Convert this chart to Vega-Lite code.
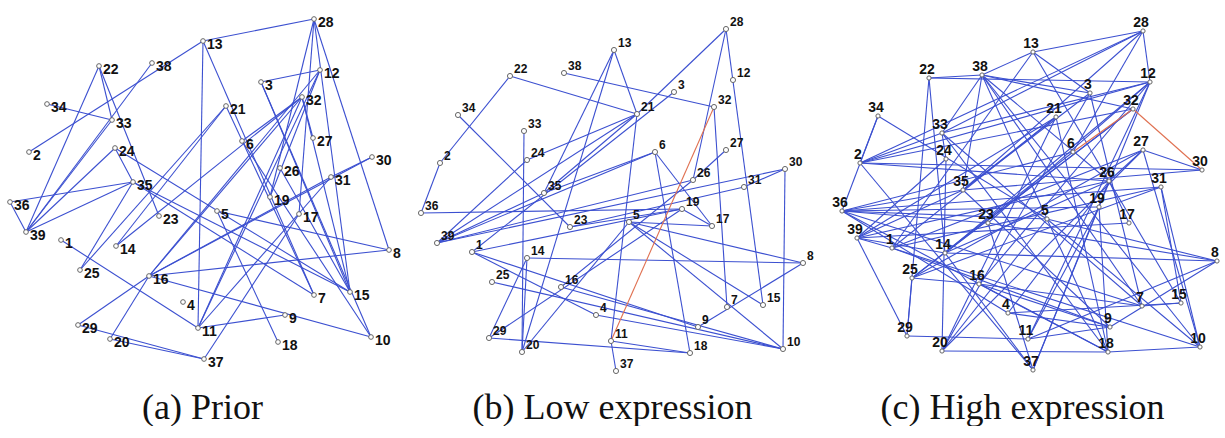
{
"$schema": "https://vega.github.io/schema/vega-lite/v6.json",
"padding": 0,
"spacing": 5,
"bounds": "flush",
"config": {"view": {"stroke": null}},
"datasets": {
"nodes": [
{"k":"a1","p":"a","n":"1","x":61,"y":240},{"k":"a2","p":"a","n":"2","x":29,"y":152},{"k":"a3","p":"a","n":"3","x":261,"y":82},{"k":"a4","p":"a","n":"4","x":183,"y":302},{"k":"a5","p":"a","n":"5","x":217,"y":211},{"k":"a6","p":"a","n":"6","x":242,"y":141},{"k":"a7","p":"a","n":"7","x":314,"y":295},{"k":"a8","p":"a","n":"8","x":389,"y":250},{"k":"a9","p":"a","n":"9","x":285,"y":315},{"k":"a10","p":"a","n":"10","x":371,"y":337},{"k":"a11","p":"a","n":"11","x":198,"y":328},{"k":"a12","p":"a","n":"12","x":320,"y":70},{"k":"a13","p":"a","n":"13","x":203,"y":41},{"k":"a14","p":"a","n":"14","x":116,"y":246},{"k":"a15","p":"a","n":"15","x":350,"y":292},{"k":"a16","p":"a","n":"16","x":149,"y":276},{"k":"a17","p":"a","n":"17","x":299,"y":214},{"k":"a18","p":"a","n":"18","x":278,"y":342},{"k":"a19","p":"a","n":"19","x":270,"y":197},{"k":"a20","p":"a","n":"20","x":110,"y":339},{"k":"a21","p":"a","n":"21","x":226,"y":106},{"k":"a22","p":"a","n":"22","x":99,"y":66},{"k":"a23","p":"a","n":"23","x":159,"y":216},{"k":"a24","p":"a","n":"24","x":115,"y":148},{"k":"a25","p":"a","n":"25","x":80,"y":270},{"k":"a26","p":"a","n":"26","x":280,"y":168},{"k":"a27","p":"a","n":"27","x":313,"y":138},{"k":"a28","p":"a","n":"28","x":314,"y":19},{"k":"a29","p":"a","n":"29","x":78,"y":325},{"k":"a30","p":"a","n":"30","x":372,"y":157},{"k":"a31","p":"a","n":"31","x":331,"y":177},{"k":"a32","p":"a","n":"32","x":302,"y":97},{"k":"a33","p":"a","n":"33","x":112,"y":120},{"k":"a34","p":"a","n":"34","x":47,"y":104},{"k":"a35","p":"a","n":"35","x":133,"y":182},{"k":"a36","p":"a","n":"36","x":10,"y":202},{"k":"a37","p":"a","n":"37","x":204,"y":359},{"k":"a38","p":"a","n":"38","x":152,"y":63},{"k":"a39","p":"a","n":"39","x":26,"y":232},
{"k":"b1","p":"b","n":"1","x":472,"y":252},{"k":"b2","p":"b","n":"2","x":440,"y":163},{"k":"b3","p":"b","n":"3","x":674,"y":92},{"k":"b4","p":"b","n":"4","x":596,"y":315},{"k":"b5","p":"b","n":"5","x":629,"y":222},{"k":"b6","p":"b","n":"6","x":655,"y":152},{"k":"b7","p":"b","n":"7","x":727,"y":307},{"k":"b8","p":"b","n":"8","x":803,"y":263},{"k":"b9","p":"b","n":"9","x":698,"y":327},{"k":"b10","p":"b","n":"10","x":783,"y":349},{"k":"b11","p":"b","n":"11","x":611,"y":341},{"k":"b12","p":"b","n":"12","x":733,"y":80},{"k":"b13","p":"b","n":"13","x":614,"y":50},{"k":"b14","p":"b","n":"14","x":527,"y":258},{"k":"b15","p":"b","n":"15","x":763,"y":305},{"k":"b16","p":"b","n":"16","x":561,"y":287},{"k":"b17","p":"b","n":"17","x":712,"y":226},{"k":"b18","p":"b","n":"18","x":690,"y":353},{"k":"b19","p":"b","n":"19","x":682,"y":209},{"k":"b20","p":"b","n":"20","x":522,"y":352},{"k":"b21","p":"b","n":"21","x":637,"y":114},{"k":"b22","p":"b","n":"22","x":510,"y":76},{"k":"b23","p":"b","n":"23","x":570,"y":227},{"k":"b24","p":"b","n":"24","x":527,"y":160},{"k":"b25","p":"b","n":"25","x":492,"y":282},{"k":"b26","p":"b","n":"26","x":693,"y":180},{"k":"b27","p":"b","n":"27","x":726,"y":150},{"k":"b28","p":"b","n":"28","x":726,"y":29},{"k":"b29","p":"b","n":"29","x":489,"y":338},{"k":"b30","p":"b","n":"30","x":785,"y":169},{"k":"b31","p":"b","n":"31","x":744,"y":187},{"k":"b32","p":"b","n":"32","x":714,"y":107},{"k":"b33","p":"b","n":"33","x":524,"y":131},{"k":"b34","p":"b","n":"34","x":458,"y":115},{"k":"b35","p":"b","n":"35","x":544,"y":193},{"k":"b36","p":"b","n":"36","x":421,"y":213},{"k":"b37","p":"b","n":"37","x":616,"y":371},{"k":"b38","p":"b","n":"38","x":564,"y":73},{"k":"b39","p":"b","n":"39","x":437,"y":243},
{"k":"c1","p":"c","n":"1","x":892,"y":248},{"k":"c2","p":"c","n":"2","x":860,"y":163},{"k":"c3","p":"c","n":"3","x":1090,"y":93},{"k":"c4","p":"c","n":"4","x":1008,"y":313},{"k":"c5","p":"c","n":"5","x":1047,"y":219},{"k":"c6","p":"c","n":"6","x":1073,"y":152},{"k":"c7","p":"c","n":"7","x":1142,"y":306},{"k":"c8","p":"c","n":"8","x":1217,"y":261},{"k":"c9","p":"c","n":"9","x":1110,"y":327},{"k":"c10","p":"c","n":"10","x":1200,"y":347},{"k":"c11","p":"c","n":"11","x":1028,"y":339},{"k":"c12","p":"c","n":"12","x":1150,"y":82},{"k":"c13","p":"c","n":"13","x":1033,"y":52},{"k":"c14","p":"c","n":"14","x":945,"y":253},{"k":"c15","p":"c","n":"15","x":1181,"y":303},{"k":"c16","p":"c","n":"16","x":979,"y":284},{"k":"c17","p":"c","n":"17","x":1129,"y":223},{"k":"c18","p":"c","n":"18","x":1108,"y":352},{"k":"c19","p":"c","n":"19","x":1099,"y":207},{"k":"c20","p":"c","n":"20","x":942,"y":351},{"k":"c21","p":"c","n":"21","x":1056,"y":117},{"k":"c22","p":"c","n":"22","x":929,"y":78},{"k":"c23","p":"c","n":"23","x":988,"y":223},{"k":"c24","p":"c","n":"24","x":946,"y":159},{"k":"c25","p":"c","n":"25","x":912,"y":278},{"k":"c26","p":"c","n":"26","x":1109,"y":181},{"k":"c27","p":"c","n":"27","x":1143,"y":150},{"k":"c28","p":"c","n":"28","x":1143,"y":31},{"k":"c29","p":"c","n":"29","x":907,"y":336},{"k":"c30","p":"c","n":"30","x":1202,"y":170},{"k":"c31","p":"c","n":"31","x":1161,"y":187},{"k":"c32","p":"c","n":"32","x":1133,"y":109},{"k":"c33","p":"c","n":"33","x":942,"y":133},{"k":"c34","p":"c","n":"34","x":878,"y":116},{"k":"c35","p":"c","n":"35","x":963,"y":190},{"k":"c36","p":"c","n":"36","x":842,"y":211},{"k":"c37","p":"c","n":"37","x":1033,"y":370},{"k":"c38","p":"c","n":"38","x":982,"y":75},{"k":"c39","p":"c","n":"39","x":857,"y":238}
],
"edges": [
{"p":"a","s":"a13","t":"a28"},{"p":"a","s":"a13","t":"a2"},{"p":"a","s":"a13","t":"a11"},{"p":"a","s":"a13","t":"a7"},{"p":"a","s":"a22","t":"a33"},{"p":"a","s":"a22","t":"a39"},{"p":"a","s":"a22","t":"a23"},{"p":"a","s":"a38","t":"a39"},{"p":"a","s":"a34","t":"a33"},{"p":"a","s":"a33","t":"a39"},{"p":"a","s":"a24","t":"a39"},{"p":"a","s":"a24","t":"a35"},{"p":"a","s":"a24","t":"a15"},{"p":"a","s":"a25","t":"a35"},{"p":"a","s":"a25","t":"a21"},{"p":"a","s":"a35","t":"a36"},{"p":"a","s":"a35","t":"a39"},{"p":"a","s":"a36","t":"a39"},{"p":"a","s":"a35","t":"a15"},{"p":"a","s":"a35","t":"a7"},{"p":"a","s":"a1","t":"a11"},{"p":"a","s":"a14","t":"a21"},{"p":"a","s":"a14","t":"a32"},{"p":"a","s":"a16","t":"a32"},{"p":"a","s":"a16","t":"a12"},{"p":"a","s":"a16","t":"a8"},{"p":"a","s":"a16","t":"a10"},{"p":"a","s":"a16","t":"a30"},{"p":"a","s":"a16","t":"a31"},{"p":"a","s":"a29","t":"a16"},{"p":"a","s":"a29","t":"a37"},{"p":"a","s":"a20","t":"a37"},{"p":"a","s":"a20","t":"a16"},{"p":"a","s":"a11","t":"a32"},{"p":"a","s":"a11","t":"a12"},{"p":"a","s":"a11","t":"a9"},{"p":"a","s":"a11","t":"a31"},{"p":"a","s":"a37","t":"a17"},{"p":"a","s":"a5","t":"a18"},{"p":"a","s":"a5","t":"a8"},{"p":"a","s":"a3","t":"a12"},{"p":"a","s":"a3","t":"a10"},{"p":"a","s":"a3","t":"a15"},{"p":"a","s":"a28","t":"a8"},{"p":"a","s":"a28","t":"a17"},{"p":"a","s":"a28","t":"a15"},{"p":"a","s":"a28","t":"a19"},{"p":"a","s":"a32","t":"a27"},{"p":"a","s":"a21","t":"a7"},{"p":"a","s":"a6","t":"a10"},{"p":"a","s":"a6","t":"a32"},{"p":"a","s":"a26","t":"a15"},{"p":"a","s":"a31","t":"a30"},{"p":"a","s":"a32","t":"a15"},{"p":"a","s":"a12","t":"a19"},
{"p":"b","s":"b13","t":"b21"},{"p":"b","s":"b13","t":"b35"},{"p":"b","s":"b13","t":"b20"},{"p":"b","s":"b22","t":"b2"},{"p":"b","s":"b2","t":"b36"},{"p":"b","s":"b22","t":"b21"},{"p":"b","s":"b38","t":"b32"},{"p":"b","s":"b34","t":"b23"},{"p":"b","s":"b33","t":"b20"},{"p":"b","s":"b24","t":"b21"},{"p":"b","s":"b24","t":"b39"},{"p":"b","s":"b3","t":"b1"},{"p":"b","s":"b35","t":"b39"},{"p":"b","s":"b35","t":"b21"},{"p":"b","s":"b35","t":"b6"},{"p":"b","s":"b36","t":"b19"},{"p":"b","s":"b39","t":"b30"},{"p":"b","s":"b39","t":"b26"},{"p":"b","s":"b39","t":"b6"},{"p":"b","s":"b39","t":"b21"},{"p":"b","s":"b1","t":"b19"},{"p":"b","s":"b1","t":"b4"},{"p":"b","s":"b1","t":"b9"},{"p":"b","s":"b25","t":"b10"},{"p":"b","s":"b16","t":"b10"},{"p":"b","s":"b4","t":"b10"},{"p":"b","s":"b14","t":"b8"},{"p":"b","s":"b14","t":"b29"},{"p":"b","s":"b14","t":"b20"},{"p":"b","s":"b29","t":"b18"},{"p":"b","s":"b29","t":"b19"},{"p":"b","s":"b16","t":"b26"},{"p":"b","s":"b21","t":"b11"},{"p":"b","s":"b11","t":"b37"},{"p":"b","s":"b11","t":"b18"},{"p":"b","s":"b9","t":"b8"},{"p":"b","s":"b5","t":"b10"},{"p":"b","s":"b5","t":"b15"},{"p":"b","s":"b5","t":"b8"},{"p":"b","s":"b5","t":"b17"},{"p":"b","s":"b6","t":"b18"},{"p":"b","s":"b6","t":"b17"},{"p":"b","s":"b21","t":"b28"},{"p":"b","s":"b28","t":"b26"},{"p":"b","s":"b28","t":"b15"},{"p":"b","s":"b32","t":"b7"},{"p":"b","s":"b27","t":"b26"},{"p":"b","s":"b30","t":"b10"},{"p":"b","s":"b30","t":"b31"},{"p":"b","s":"b31","t":"b23"},{"p":"b","s":"b19","t":"b17"},{"p":"b","s":"b19","t":"b23"},{"p":"b","s":"b20","t":"b5"},{"p":"b","s":"b11","t":"b32","red":true},
{"p":"c","s":"c22","t":"c38"},{"p":"c","s":"c22","t":"c12"},{"p":"c","s":"c22","t":"c29"},{"p":"c","s":"c22","t":"c14"},{"p":"c","s":"c38","t":"c13"},{"p":"c","s":"c38","t":"c33"},{"p":"c","s":"c38","t":"c3"},{"p":"c","s":"c38","t":"c32"},{"p":"c","s":"c38","t":"c26"},{"p":"c","s":"c38","t":"c5"},{"p":"c","s":"c38","t":"c10"},{"p":"c","s":"c38","t":"c7"},{"p":"c","s":"c38","t":"c35"},{"p":"c","s":"c34","t":"c2"},{"p":"c","s":"c34","t":"c5"},{"p":"c","s":"c34","t":"c36"},{"p":"c","s":"c33","t":"c2"},{"p":"c","s":"c33","t":"c12"},{"p":"c","s":"c33","t":"c28"},{"p":"c","s":"c33","t":"c7"},{"p":"c","s":"c33","t":"c24"},{"p":"c","s":"c33","t":"c18"},{"p":"c","s":"c2","t":"c12"},{"p":"c","s":"c2","t":"c32"},{"p":"c","s":"c2","t":"c30"},{"p":"c","s":"c2","t":"c26"},{"p":"c","s":"c2","t":"c37"},{"p":"c","s":"c24","t":"c20"},{"p":"c","s":"c24","t":"c39"},{"p":"c","s":"c35","t":"c36"},{"p":"c","s":"c35","t":"c39"},{"p":"c","s":"c35","t":"c21"},{"p":"c","s":"c35","t":"c3"},{"p":"c","s":"c35","t":"c9"},{"p":"c","s":"c13","t":"c28"},{"p":"c","s":"c13","t":"c3"},{"p":"c","s":"c13","t":"c15"},{"p":"c","s":"c13","t":"c1"},{"p":"c","s":"c28","t":"c12"},{"p":"c","s":"c28","t":"c6"},{"p":"c","s":"c28","t":"c35"},{"p":"c","s":"c28","t":"c2"},{"p":"c","s":"c12","t":"c16"},{"p":"c","s":"c12","t":"c11"},{"p":"c","s":"c12","t":"c14"},{"p":"c","s":"c3","t":"c20"},{"p":"c","s":"c3","t":"c7"},{"p":"c","s":"c21","t":"c20"},{"p":"c","s":"c21","t":"c18"},{"p":"c","s":"c21","t":"c39"},{"p":"c","s":"c6","t":"c36"},{"p":"c","s":"c6","t":"c25"},{"p":"c","s":"c32","t":"c25"},{"p":"c","s":"c27","t":"c30"},{"p":"c","s":"c27","t":"c26"},{"p":"c","s":"c27","t":"c10"},{"p":"c","s":"c27","t":"c1"},{"p":"c","s":"c26","t":"c4"},{"p":"c","s":"c26","t":"c37"},{"p":"c","s":"c26","t":"c39"},{"p":"c","s":"c31","t":"c36"},{"p":"c","s":"c31","t":"c10"},{"p":"c","s":"c30","t":"c35"},{"p":"c","s":"c36","t":"c23"},{"p":"c","s":"c36","t":"c19"},{"p":"c","s":"c36","t":"c7"},{"p":"c","s":"c36","t":"c4"},{"p":"c","s":"c36","t":"c18"},{"p":"c","s":"c39","t":"c29"},{"p":"c","s":"c39","t":"c1"},{"p":"c","s":"c39","t":"c14"},{"p":"c","s":"c39","t":"c17"},{"p":"c","s":"c1","t":"c10"},{"p":"c","s":"c1","t":"c21"},{"p":"c","s":"c1","t":"c9"},{"p":"c","s":"c1","t":"c31"},{"p":"c","s":"c14","t":"c37"},{"p":"c","s":"c14","t":"c8"},{"p":"c","s":"c14","t":"c32"},{"p":"c","s":"c14","t":"c26"},{"p":"c","s":"c25","t":"c29"},{"p":"c","s":"c25","t":"c16"},{"p":"c","s":"c25","t":"c27"},{"p":"c","s":"c25","t":"c31"},{"p":"c","s":"c29","t":"c11"},{"p":"c","s":"c20","t":"c18"},{"p":"c","s":"c20","t":"c5"},{"p":"c","s":"c20","t":"c27"},{"p":"c","s":"c16","t":"c9"},{"p":"c","s":"c16","t":"c18"},{"p":"c","s":"c16","t":"c7"},{"p":"c","s":"c23","t":"c37"},{"p":"c","s":"c23","t":"c12"},{"p":"c","s":"c23","t":"c8"},{"p":"c","s":"c4","t":"c9"},{"p":"c","s":"c4","t":"c15"},{"p":"c","s":"c19","t":"c18"},{"p":"c","s":"c19","t":"c37"},{"p":"c","s":"c19","t":"c11"},{"p":"c","s":"c19","t":"c12"},{"p":"c","s":"c5","t":"c18"},{"p":"c","s":"c5","t":"c10"},{"p":"c","s":"c5","t":"c8"},{"p":"c","s":"c5","t":"c36"},{"p":"c","s":"c17","t":"c26"},{"p":"c","s":"c8","t":"c9"},{"p":"c","s":"c8","t":"c11"},{"p":"c","s":"c7","t":"c15"},{"p":"c","s":"c15","t":"c31"},{"p":"c","s":"c9","t":"c11"},{"p":"c","s":"c10","t":"c18"},{"p":"c","s":"c6","t":"c32","red":true},{"p":"c","s":"c32","t":"c30","red":true}
]
},
"hconcat": [
{
"width": 405, "height": 380,
"title": {"text": "(a) Prior", "orient": "bottom", "anchor": "middle", "font": "Liberation Serif", "fontSize": 36, "fontWeight": "normal", "color": "#111", "offset": 11},
"layer": [
{"data": {"name": "edges"},
 "transform": [{"filter": "datum.p=='a'"},
  {"lookup": "s", "from": {"data": {"name": "nodes"}, "key": "k", "fields": ["x", "y"]}, "as": ["x1", "y1"]},
  {"lookup": "t", "from": {"data": {"name": "nodes"}, "key": "k", "fields": ["x", "y"]}, "as": ["x2", "y2"]}],
 "mark": {"type": "rule", "strokeWidth": 1.1},
 "encoding": {
  "x": {"field": "x1", "type": "quantitative", "scale": {"domain": [0, 405], "nice": false, "zero": false}, "axis": null},
  "y": {"field": "y1", "type": "quantitative", "scale": {"domain": [0, 380], "reverse": true, "nice": false, "zero": false}, "axis": null},
  "x2": {"field": "x2"}, "y2": {"field": "y2"},
  "color": {"condition": {"test": "datum.red", "value": "#e07050"}, "value": "#3c50d0"}}},
{"data": {"name": "nodes"}, "transform": [{"filter": "datum.p=='a'"}],
 "mark": {"type": "circle", "size": 22, "fill": "#ffffff", "stroke": "#666666", "strokeWidth": 1, "opacity": 1},
 "encoding": {
  "x": {"field": "x", "type": "quantitative", "scale": {"domain": [0, 405], "nice": false, "zero": false}, "axis": null},
  "y": {"field": "y", "type": "quantitative", "scale": {"domain": [0, 380], "reverse": true, "nice": false, "zero": false}, "axis": null}}},
{"data": {"name": "nodes"}, "transform": [{"filter": "datum.p=='a'"}],
 "mark": {"type": "text", "align": "left", "baseline": "middle", "dx": 4, "dy": 4, "font": "Liberation Sans", "fontWeight": "bold", "fontSize": 14, "color": "#111"},
 "encoding": {
  "x": {"field": "x", "type": "quantitative", "scale": {"domain": [0, 405], "nice": false, "zero": false}, "axis": null},
  "y": {"field": "y", "type": "quantitative", "scale": {"domain": [0, 380], "reverse": true, "nice": false, "zero": false}, "axis": null},
  "text": {"field": "n"}}}
]
},
{
"width": 405, "height": 380,
"title": {"text": "(b) Low expression", "orient": "bottom", "anchor": "middle", "font": "Liberation Serif", "fontSize": 36, "fontWeight": "normal", "color": "#111", "offset": 11},
"layer": [
{"data": {"name": "edges"},
 "transform": [{"filter": "datum.p=='b'"},
  {"lookup": "s", "from": {"data": {"name": "nodes"}, "key": "k", "fields": ["x", "y"]}, "as": ["x1", "y1"]},
  {"lookup": "t", "from": {"data": {"name": "nodes"}, "key": "k", "fields": ["x", "y"]}, "as": ["x2", "y2"]}],
 "mark": {"type": "rule", "strokeWidth": 1.1},
 "encoding": {
  "x": {"field": "x1", "type": "quantitative", "scale": {"domain": [410, 815], "nice": false, "zero": false}, "axis": null},
  "y": {"field": "y1", "type": "quantitative", "scale": {"domain": [0, 380], "reverse": true, "nice": false, "zero": false}, "axis": null},
  "x2": {"field": "x2"}, "y2": {"field": "y2"},
  "color": {"condition": {"test": "datum.red", "value": "#e07050"}, "value": "#3c50d0"}}},
{"data": {"name": "nodes"}, "transform": [{"filter": "datum.p=='b'"}],
 "mark": {"type": "circle", "size": 26, "fill": "#ffffff", "stroke": "#666666", "strokeWidth": 1, "opacity": 1},
 "encoding": {
  "x": {"field": "x", "type": "quantitative", "scale": {"domain": [410, 815], "nice": false, "zero": false}, "axis": null},
  "y": {"field": "y", "type": "quantitative", "scale": {"domain": [0, 380], "reverse": true, "nice": false, "zero": false}, "axis": null}}},
{"data": {"name": "nodes"}, "transform": [{"filter": "datum.p=='b'"}],
 "mark": {"type": "text", "align": "left", "baseline": "middle", "dx": 4, "dy": -7, "font": "Liberation Sans", "fontWeight": "bold", "fontSize": 12, "color": "#111"},
 "encoding": {
  "x": {"field": "x", "type": "quantitative", "scale": {"domain": [410, 815], "nice": false, "zero": false}, "axis": null},
  "y": {"field": "y", "type": "quantitative", "scale": {"domain": [0, 380], "reverse": true, "nice": false, "zero": false}, "axis": null},
  "text": {"field": "n"}}}
]
},
{
"width": 405, "height": 380,
"title": {"text": "(c) High expression", "orient": "bottom", "anchor": "middle", "font": "Liberation Serif", "fontSize": 36, "fontWeight": "normal", "color": "#111", "offset": 11},
"layer": [
{"data": {"name": "edges"},
 "transform": [{"filter": "datum.p=='c'"},
  {"lookup": "s", "from": {"data": {"name": "nodes"}, "key": "k", "fields": ["x", "y"]}, "as": ["x1", "y1"]},
  {"lookup": "t", "from": {"data": {"name": "nodes"}, "key": "k", "fields": ["x", "y"]}, "as": ["x2", "y2"]}],
 "mark": {"type": "rule", "strokeWidth": 1.1},
 "encoding": {
  "x": {"field": "x1", "type": "quantitative", "scale": {"domain": [820, 1225], "nice": false, "zero": false}, "axis": null},
  "y": {"field": "y1", "type": "quantitative", "scale": {"domain": [0, 380], "reverse": true, "nice": false, "zero": false}, "axis": null},
  "x2": {"field": "x2"}, "y2": {"field": "y2"},
  "color": {"condition": {"test": "datum.red", "value": "#e07050"}, "value": "#3c50d0"}}},
{"data": {"name": "nodes"}, "transform": [{"filter": "datum.p=='c'"}],
 "mark": {"type": "circle", "size": 18, "fill": "#ffffff", "stroke": "#666666", "strokeWidth": 1, "opacity": 1},
 "encoding": {
  "x": {"field": "x", "type": "quantitative", "scale": {"domain": [820, 1225], "nice": false, "zero": false}, "axis": null},
  "y": {"field": "y", "type": "quantitative", "scale": {"domain": [0, 380], "reverse": true, "nice": false, "zero": false}, "axis": null}}},
{"data": {"name": "nodes"}, "transform": [{"filter": "datum.p=='c'"}],
 "mark": {"type": "text", "align": "center", "baseline": "middle", "dx": -2, "dy": -8, "font": "Liberation Sans", "fontWeight": "bold", "fontSize": 14, "color": "#111"},
 "encoding": {
  "x": {"field": "x", "type": "quantitative", "scale": {"domain": [820, 1225], "nice": false, "zero": false}, "axis": null},
  "y": {"field": "y", "type": "quantitative", "scale": {"domain": [0, 380], "reverse": true, "nice": false, "zero": false}, "axis": null},
  "text": {"field": "n"}}}
]
}
]
}
